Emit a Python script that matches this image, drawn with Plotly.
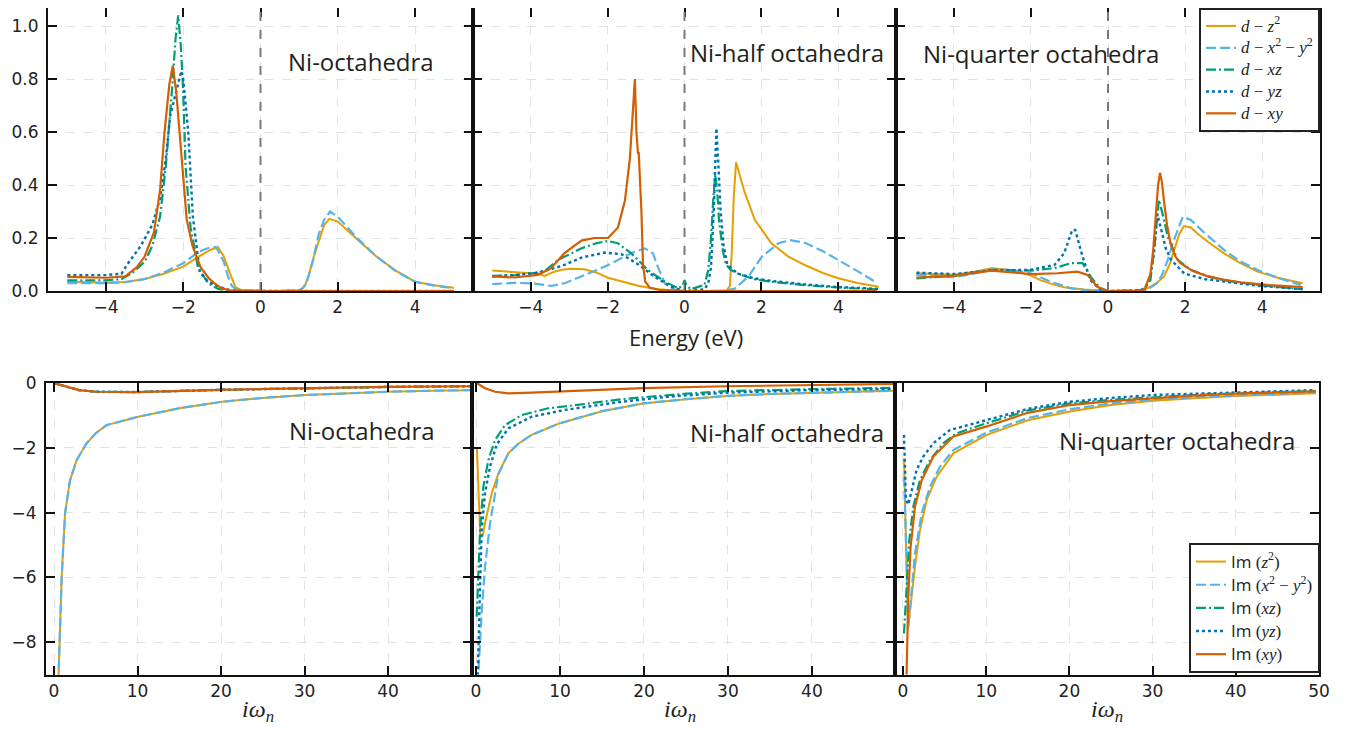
import plotly.graph_objects as go

# ---------------- DATA ----------------
# Top row: spectral functions vs energy (eV)
# Ni-octahedra
E_oct_z2 = [-5.0, -4.5, -4.0, -3.5, -3.0, -2.5, -2.0, -1.6, -1.3, -1.1, -0.95, -0.8, -0.65, -0.5, 0.0, 0.5, 1.05, 1.15, 1.25, 1.38, 1.55, 1.65, 1.78, 2.0, 2.5, 3.0, 3.5, 4.0, 4.5, 5.0]
oct_z2 = [0.035, 0.033, 0.031, 0.034, 0.045, 0.065, 0.092, 0.13, 0.155, 0.165, 0.13, 0.07, 0.015, 0.003, 0.0, 0.0, 0.003, 0.02, 0.06, 0.13, 0.21, 0.25, 0.272, 0.262, 0.195, 0.13, 0.077, 0.035, 0.022, 0.012]
E_oct_x2 = [-5.0, -4.5, -4.0, -3.5, -3.0, -2.5, -2.0, -1.6, -1.35, -1.15, -0.95, -0.85, -0.75, -0.6, 0.0, 0.5, 1.0, 1.1, 1.2, 1.35, 1.5, 1.65, 1.8, 2.0, 2.5, 3.0, 3.5, 4.0, 4.5, 5.0]
oct_x2 = [0.03, 0.03, 0.03, 0.033, 0.045, 0.07, 0.105, 0.148, 0.162, 0.166, 0.11, 0.06, 0.02, 0.003, 0.0, 0.0, 0.003, 0.012, 0.035, 0.11, 0.21, 0.27, 0.30, 0.28, 0.20, 0.13, 0.075, 0.035, 0.02, 0.01]
E_oct_xz = [-5.0, -4.0, -3.6, -3.3, -3.0, -2.8, -2.6, -2.45, -2.28, -2.2, -2.13, -2.06, -2.0, -1.94, -1.81, -1.62, -1.36, -1.1, -0.8, -0.5, 0.0, 5.0]
oct_xz = [0.04, 0.04, 0.045, 0.07, 0.11, 0.17, 0.28, 0.47, 0.78, 0.95, 1.04, 0.92, 0.75, 0.47, 0.24, 0.09, 0.03, 0.008, 0.001, 0.0, 0.0, 0.0]
E_oct_yz = [-5.0, -4.0, -3.6, -3.45, -3.1, -2.8, -2.6, -2.45, -2.34, -2.16, -2.05, -2.0, -1.95, -1.87, -1.75, -1.57, -1.35, -1.14, -0.8, -0.5, 0.0, 5.0]
oct_yz = [0.06, 0.06, 0.065, 0.1, 0.17, 0.25, 0.35, 0.5, 0.66, 0.77, 0.83, 0.8, 0.72, 0.6, 0.28, 0.07, 0.035, 0.02, 0.003, 0.0, 0.0, 0.0]
E_oct_xy = [-5.0, -4.0, -3.5, -3.2, -3.0, -2.76, -2.6, -2.49, -2.36, -2.27, -2.18, -2.06, -1.91, -1.76, -1.55, -1.35, -1.2, -1.0, -0.7, 0.0, 5.0]
oct_xy = [0.053, 0.05, 0.055, 0.09, 0.13, 0.22, 0.38, 0.59, 0.78, 0.85, 0.75, 0.53, 0.27, 0.17, 0.09, 0.05, 0.03, 0.01, 0.0, 0.0, 0.0]

# Ni-half octahedra
E_half_z2 = [-5.0, -4.4, -3.8, -3.64, -3.4, -3.2, -2.94, -2.6, -2.3, -1.99, -1.6, -1.21, -0.69, -0.3, 0.0, 0.5, 1.1, 1.18, 1.23, 1.28, 1.34, 1.45, 1.57, 1.83, 2.26, 2.7, 3.13, 3.6, 4.0, 4.5, 5.05]
half_z2 = [0.077, 0.072, 0.065, 0.057, 0.072, 0.08, 0.084, 0.082, 0.07, 0.05, 0.035, 0.02, 0.007, 0.002, 0.0, 0.0, 0.003, 0.02, 0.15, 0.35, 0.486, 0.43, 0.37, 0.268, 0.18, 0.13, 0.098, 0.068, 0.048, 0.03, 0.016]
E_half_x2 = [-5.0, -4.42, -3.9, -3.47, -3.1, -2.68, -2.3, -1.9, -1.5, -1.29, -1.03, -0.82, -0.69, -0.51, -0.26, 0.0, 1.0, 1.31, 1.66, 2.01, 2.44, 2.75, 3.13, 3.6, 4.0, 4.5, 5.0]
half_x2 = [0.026, 0.031, 0.028, 0.019, 0.03, 0.054, 0.078, 0.104, 0.135, 0.148, 0.161, 0.142, 0.09, 0.028, 0.005, 0.0, 0.0, 0.009, 0.054, 0.129, 0.18, 0.192, 0.182, 0.15, 0.117, 0.075, 0.031]
E_half_xz = [-5.0, -4.4, -3.81, -3.6, -3.29, -2.68, -2.3, -1.99, -1.73, -1.38, -0.95, -0.51, -0.16, -0.05, 0.0, 0.05, 0.17, 0.52, 0.62, 0.69, 0.75, 0.8, 0.85, 0.9, 1.0, 1.08, 1.2, 1.38, 1.8, 2.26, 3.13, 4.0, 5.05]
half_xz = [0.057, 0.06, 0.069, 0.08, 0.117, 0.161, 0.18, 0.189, 0.18, 0.142, 0.079, 0.035, 0.01, 0.02, 0.041, 0.02, 0.007, 0.023, 0.08, 0.2, 0.35, 0.44, 0.38, 0.26, 0.15, 0.1, 0.08, 0.066, 0.045, 0.035, 0.022, 0.013, 0.006]
E_half_yz = [-5.0, -4.4, -3.81, -3.2, -2.68, -2.08, -1.64, -1.21, -0.78, -0.35, 0.0, 0.52, 0.62, 0.69, 0.76, 0.83, 0.88, 0.94, 1.02, 1.11, 1.38, 1.8, 2.26, 3.13, 4.0, 5.05]
half_yz = [0.055, 0.06, 0.069, 0.094, 0.126, 0.145, 0.139, 0.101, 0.054, 0.016, 0.0, 0.006, 0.03, 0.09, 0.3, 0.614, 0.48, 0.3, 0.17, 0.1, 0.066, 0.048, 0.038, 0.025, 0.015, 0.008]
E_half_xy = [-5.0, -4.42, -3.81, -3.47, -3.12, -2.68, -2.34, -1.99, -1.73, -1.55, -1.42, -1.35, -1.29, -1.25, -1.21, -1.19, -1.15, -1.12, -1.08, -1.02, -0.9, -0.6, 0.0, 5.0]
half_xy = [0.055, 0.051, 0.061, 0.086, 0.143, 0.19, 0.2, 0.2, 0.24, 0.34, 0.5, 0.69, 0.80, 0.6, 0.52, 0.52, 0.42, 0.3, 0.1, 0.035, 0.012, 0.003, 0.0, 0.0]

# Ni-quarter octahedra
E_q_z2 = [-4.97, -4.5, -4.0, -3.5, -3.03, -2.7, -2.34, -2.0, -1.74, -1.4, -1.14, -0.63, 0.0, 0.9, 1.1, 1.3, 1.45, 1.6, 1.71, 1.85, 1.97, 2.15, 2.32, 2.6, 3.01, 3.4, 3.88, 4.4, 5.05]
q_z2 = [0.067, 0.063, 0.061, 0.072, 0.086, 0.082, 0.073, 0.058, 0.04, 0.024, 0.014, 0.006, 0.0, 0.002, 0.016, 0.035, 0.054, 0.1, 0.155, 0.215, 0.245, 0.24, 0.217, 0.185, 0.142, 0.108, 0.073, 0.05, 0.029]
E_q_x2 = [-4.97, -4.5, -4.0, -3.5, -3.03, -2.5, -2.0, -1.48, -0.96, -0.5, 0.0, 1.0, 1.27, 1.4, 1.55, 1.68, 1.81, 1.94, 2.15, 2.5, 3.01, 3.4, 3.88, 4.4, 5.0]
q_x2 = [0.061, 0.056, 0.052, 0.065, 0.082, 0.08, 0.067, 0.035, 0.01, 0.002, 0.0, 0.003, 0.029, 0.06, 0.117, 0.18, 0.23, 0.28, 0.268, 0.22, 0.155, 0.115, 0.079, 0.05, 0.023]
E_q_xz = [-4.97, -4.0, -3.03, -2.0, -1.39, -0.96, -0.66, -0.45, -0.2, 0.0, 0.9, 1.1, 1.2, 1.27, 1.32, 1.4, 1.55, 1.81, 2.15, 2.6, 3.01, 3.88, 5.05]
q_xz = [0.048, 0.057, 0.08, 0.077, 0.086, 0.105, 0.105, 0.054, 0.01, 0.0, 0.003, 0.041, 0.16, 0.28, 0.344, 0.3, 0.205, 0.117, 0.08, 0.055, 0.04, 0.023, 0.007]
E_q_yz = [-4.97, -4.0, -3.03, -2.0, -1.39, -1.14, -1.0, -0.93, -0.85, -0.75, -0.66, -0.45, -0.2, 0.0, 0.85, 1.0, 1.1, 1.19, 1.28, 1.4, 1.5, 1.64, 1.98, 2.5, 3.01, 3.88, 5.05]
q_yz = [0.069, 0.064, 0.077, 0.08, 0.098, 0.142, 0.2, 0.23, 0.23, 0.18, 0.13, 0.04, 0.005, 0.0, 0.002, 0.02, 0.06, 0.14, 0.29, 0.22, 0.16, 0.117, 0.066, 0.045, 0.035, 0.02, 0.007]
E_q_xy = [-4.97, -4.0, -3.03, -2.0, -1.31, -0.79, -0.53, -0.28, 0.0, 0.8, 0.95, 1.1, 1.17, 1.24, 1.3, 1.35, 1.4, 1.45, 1.53, 1.62, 1.75, 1.88, 2.2, 2.57, 3.0, 3.44, 4.2, 5.05]
q_xy = [0.051, 0.057, 0.077, 0.064, 0.067, 0.073, 0.061, 0.016, 0.0, 0.0, 0.006, 0.064, 0.15, 0.28, 0.4, 0.446, 0.41, 0.343, 0.25, 0.18, 0.13, 0.105, 0.075, 0.056, 0.043, 0.033, 0.022, 0.015]

# Bottom row: Im Sigma(i w_n)
w_oct_eg = [0.3, 0.64, 0.92, 1.32, 1.92, 2.71, 3.9, 5.0, 6.3, 10.1, 15.0, 20.1, 25.0, 30.1, 35.0, 40.0, 45.0, 49.8]
oct_eg = [-11.0, -8.0, -5.98, -4.02, -3.0, -2.38, -1.86, -1.55, -1.30, -1.04, -0.78, -0.58, -0.46, -0.37, -0.31, -0.27, -0.24, -0.22]
w_oct_t2g = [0.1, 1.5, 3.0, 5.0, 10.0, 20.0, 30.0, 40.0, 49.8]
oct_t2g = [-0.01, -0.12, -0.22, -0.27, -0.28, -0.21, -0.16, -0.12, -0.1]

w_half_z2 = [0.1, 0.5, 0.8, 1.15, 1.87, 2.66, 3.85, 5.0, 6.63, 10.0, 15.0, 19.9, 25.0, 29.8, 35.0, 39.7, 45.0, 49.9]
hw_z2 = [-2.0, -4.7, -4.7, -4.23, -3.4, -2.79, -2.17, -1.88, -1.6, -1.24, -0.87, -0.63, -0.5, -0.4, -0.34, -0.3, -0.27, -0.24]
w_half_x2 = [0.1, 0.28, 0.67, 1.07, 1.67, 2.26, 2.66, 3.85, 5.0, 6.63, 10.0, 15.0, 19.9, 25.0, 29.8, 35.0, 39.7, 45.0, 49.9]
hw_x2 = [-11.0, -8.96, -7.1, -5.67, -4.33, -3.4, -2.82, -2.17, -1.88, -1.6, -1.24, -0.87, -0.63, -0.5, -0.4, -0.34, -0.3, -0.27, -0.24]
w_half_xz = [0.08, 0.48, 0.87, 1.47, 2.26, 3.45, 5.44, 8.6, 12.6, 17.3, 19.9, 25.0, 29.8, 35.0, 39.7, 45.0, 49.9]
hw_xz = [-7.21, -4.54, -3.2, -2.38, -1.76, -1.3, -0.99, -0.78, -0.66, -0.5, -0.44, -0.33, -0.25, -0.21, -0.19, -0.17, -0.15]
w_half_yz = [0.05, 0.2, 0.48, 0.67, 1.07, 1.67, 2.46, 3.85, 6.63, 10.6, 17.3, 23.0, 29.8, 35.0, 39.7, 45.0, 49.9]
hw_yz = [-10.5, -8.8, -6.3, -4.54, -3.4, -2.58, -1.9, -1.4, -1.04, -0.83, -0.58, -0.42, -0.3, -0.26, -0.22, -0.2, -0.18]
w_half_xy = [0.08, 1.07, 2.26, 3.85, 6.6, 10.0, 19.9, 29.8, 39.7, 49.9]
hw_xy = [0.0, -0.16, -0.27, -0.32, -0.3, -0.27, -0.16, -0.1, -0.06, -0.03]

w_q_z2 = [0.12, 0.36, 0.6, 1.44, 2.04, 2.85, 4.05, 6.05, 10.06, 15.0, 20.07, 25.0, 30.1, 35.0, 40.1, 45.0, 49.6]
qw_z2 = [-2.33, -5.05, -7.6, -5.67, -4.54, -3.61, -2.89, -2.17, -1.6, -1.15, -0.88, -0.68, -0.55, -0.47, -0.4, -0.36, -0.32]
w_q_x2 = [0.15, 0.64, 1.44, 2.25, 3.25, 4.45, 6.05, 10.06, 15.0, 20.07, 25.0, 30.1, 35.0, 40.1, 45.0, 49.6]
qw_x2 = [-2.9, -7.55, -5.26, -4.02, -3.2, -2.58, -2.07, -1.53, -1.08, -0.81, -0.63, -0.51, -0.44, -0.38, -0.33, -0.3]
w_q_xz = [0.12, 0.44, 0.76, 1.24, 2.04, 3.25, 4.84, 6.45, 10.06, 15.0, 20.07, 25.0, 30.1, 35.0, 40.1, 45.0, 49.6]
qw_xz = [-7.73, -6.08, -4.85, -3.82, -3.0, -2.38, -1.86, -1.55, -1.24, -0.85, -0.63, -0.52, -0.44, -0.37, -0.32, -0.28, -0.25]
w_q_yz = [0.12, 0.36, 0.64, 1.04, 1.64, 2.44, 3.64, 5.65, 10.06, 15.0, 20.07, 25.0, 30.1, 35.0, 40.1, 45.0, 49.6]
qw_yz = [-1.6, -3.6, -3.75, -3.3, -2.68, -2.27, -1.86, -1.45, -1.14, -0.8, -0.58, -0.46, -0.37, -0.33, -0.3, -0.26, -0.22]
w_q_xy = [0.3, 0.64, 0.92, 1.44, 2.25, 3.64, 6.05, 10.06, 15.0, 20.07, 25.0, 30.1, 35.0, 40.1, 45.0, 49.6]
qw_xy = [-10.5, -6.6, -5.05, -3.82, -3.0, -2.27, -1.65, -1.34, -0.92, -0.68, -0.56, -0.47, -0.39, -0.33, -0.29, -0.26]

panel_titles = ["Ni-octahedra", "Ni-half octahedra", "Ni-quarter octahedra"]
top_labels = ["<i>d</i> − <i>z</i><sup>2</sup>", "<i>d</i> − <i>x</i><sup>2</sup> − <i>y</i><sup>2</sup>",
              "<i>d</i> − <i>xz</i>", "<i>d</i> − <i>yz</i>", "<i>d</i> − <i>xy</i>"]
bot_labels = ["(<i>z</i><sup>2</sup>)", "(<i>x</i><sup>2</sup> − <i>y</i><sup>2</sup>)",
              "(<i>xz</i>)", "(<i>yz</i>)", "(<i>xy</i>)"]
top_xticks = [-4, -2, 0, 2, 4]
top_yticks = [0.0, 0.2, 0.4, 0.6, 0.8, 1.0]
bot_yticks = [0, -2, -4, -6, -8]

# ---------------- STYLE / LAYOUT ----------------
colors = ["#E69F00", "#56B4E9", "#009E73", "#0072B2", "#D55E00"]
dashes = ["solid", "10px,4px", "10px,3px,2px,3px", "dot", "solid"]
widths = [2, 2.2, 2.2, 2.4, 2.2]

top_names = ["<span style='font-size:17px'>" + s + "</span>" for s in top_labels]
bot_names = ["<span style='font-size:17px'><span style='font-family:Open Sans'>Im</span> " + s + "</span>"
             for s in bot_labels]

# page body keeps an 8px margin: size the figure so the whole page fits the window
OFF = 8
W, H = 1360 - 2 * OFF, 735 - 2 * OFF
def fx(p): return (p - OFF) / W
def fy(p): return max(0.0, min(1.0, 1 - (p - OFF) / H))
def xn(i): return "x" if i == 1 else f"x{i}"
def yn(i): return "y" if i == 1 else f"y{i}"
def xa(i): return "xaxis" if i == 1 else f"xaxis{i}"
def ya(i): return "yaxis" if i == 1 else f"yaxis{i}"

top_dom_x = [(48, 473), (473, 896), (896, 1320)]
bot_dom_x = [(46, 472), (472, 895), (895, 1319)]
top_dom_y = [fy(291), fy(OFF)]
top_ymax = (291 - OFF) / 265.0
bot_dom_y = [fy(674.6), fy(383)]
bot_ranges = [[-0.96, 50.06], [-0.48, 49.9], [-0.96, 50.0]]

fig = go.Figure()

top_sets = [
    [(E_oct_z2, oct_z2), (E_oct_x2, oct_x2), (E_oct_xz, oct_xz), (E_oct_yz, oct_yz), (E_oct_xy, oct_xy)],
    [(E_half_z2, half_z2), (E_half_x2, half_x2), (E_half_xz, half_xz), (E_half_yz, half_yz), (E_half_xy, half_xy)],
    [(E_q_z2, q_z2), (E_q_x2, q_x2), (E_q_xz, q_xz), (E_q_yz, q_yz), (E_q_xy, q_xy)],
]
bot_sets = [
    [(w_oct_eg, oct_eg), (w_oct_eg, oct_eg), (w_oct_t2g, oct_t2g), (w_oct_t2g, oct_t2g), (w_oct_t2g, oct_t2g)],
    [(w_half_z2, hw_z2), (w_half_x2, hw_x2), (w_half_xz, hw_xz), (w_half_yz, hw_yz), (w_half_xy, hw_xy)],
    [(w_q_z2, qw_z2), (w_q_x2, qw_x2), (w_q_xz, qw_xz), (w_q_yz, qw_yz), (w_q_xy, qw_xy)],
]

for p in range(3):
    ax = p + 1
    for k, (xs, ys) in enumerate(top_sets[p]):
        fig.add_trace(go.Scatter(x=xs, y=ys, mode="lines", name=top_names[k],
                                 line=dict(color=colors[k], dash=dashes[k], width=widths[k]),
                                 xaxis=xn(ax), yaxis=yn(ax),
                                 showlegend=(p == 2), legend="legend"))
for p in range(3):
    ax = p + 4
    for k, (xs, ys) in enumerate(bot_sets[p]):
        fig.add_trace(go.Scatter(x=xs, y=ys, mode="lines", name=bot_names[k],
                                 line=dict(color=colors[k], dash=dashes[k], width=widths[k]),
                                 xaxis=xn(ax), yaxis=yn(ax),
                                 showlegend=(p == 2), legend="legend2"))

axis_common = dict(showline=True, linewidth=2, linecolor="#111", mirror="ticks",
                   ticks="inside", ticklen=9, tickwidth=2, tickcolor="#111",
                   showgrid=True, gridcolor="#e2e2e2", griddash="dash", gridwidth=1,
                   zeroline=False, automargin=False,
                   tickfont=dict(family="DejaVu Sans", size=17, color="#222"))

layout = {}
for p in range(3):
    ax = p + 1
    layout[xa(ax)] = dict(axis_common, domain=[fx(top_dom_x[p][0]), fx(top_dom_x[p][1])],
                          range=[-5.5, 5.5], tickvals=top_xticks, anchor=yn(ax))
    layout[ya(ax)] = dict(axis_common, domain=top_dom_y, range=[0, top_ymax],
                          tickvals=top_yticks, tickformat=".1f", ticklabelstandoff=4,
                          showticklabels=(p == 0), anchor=xn(ax))
for p in range(3):
    ax = p + 4
    xt = [0, 10, 20, 30, 40, 50] if p == 2 else [0, 10, 20, 30, 40]
    layout[xa(ax)] = dict(axis_common, domain=[fx(bot_dom_x[p][0]), fx(bot_dom_x[p][1])],
                          range=bot_ranges[p], tickvals=xt, anchor=yn(ax))
    layout[ya(ax)] = dict(axis_common, domain=bot_dom_y, range=[-9, 0], ticklabelstandoff=4,
                          tickvals=bot_yticks, showticklabels=(p == 0), anchor=xn(ax))

fig.update_layout(**layout)

shapes = []
for p in range(3):
    ax = p + 1
    shapes.append(dict(type="line", xref=xn(ax), yref=yn(ax) + " domain", x0=0, x1=0, y0=0, y1=1,
                       line=dict(color="#7a7a7a", width=2, dash="dash")))

ann_font = dict(family="Open Sans", size=24, color="#231f20")
annotations = []
top_title_pos = [(361, 62), (787, 52), (1041, 53)]
bot_title_pos = [(362, 430), (787, 432), (1177, 440)]
for p in range(3):
    for (cx, cy) in [top_title_pos[p], bot_title_pos[p]]:
        annotations.append(dict(text=panel_titles[p], x=fx(cx), y=fy(cy), xref="paper", yref="paper",
                                xanchor="center", yanchor="middle", showarrow=False, font=ann_font))
annotations.append(dict(text="Energy (eV)", x=fx(686), y=fy(337), xref="paper", yref="paper",
                        xanchor="center", yanchor="middle", showarrow=False,
                        font=dict(family="Open Sans", size=22, color="#231f20")))
for cx in [258, 680, 1107]:
    annotations.append(dict(text="<i>iω</i><sub><i>n</i></sub>", x=fx(cx), y=0.0, xref="paper", yref="paper",
                            xanchor="center", yanchor="bottom", showarrow=False, borderpad=0,
                            font=dict(family="Liberation Serif", size=24, color="#231f20")))

fig.update_layout(
    width=W, height=H, margin=dict(l=0, r=0, t=0, b=0, pad=0), autosize=False,
    paper_bgcolor="white", plot_bgcolor="white",
    shapes=shapes, annotations=annotations,
    legend=dict(x=fx(1320), y=1.0, xanchor="right", yanchor="top", bgcolor="white",
                bordercolor="#222", borderwidth=2, itemwidth=30, tracegroupgap=0,
                font=dict(family="Liberation Serif", size=14.5, color="#222")),
    legend2=dict(x=fx(1320), y=fy(673), xanchor="right", yanchor="bottom", bgcolor="white",
                 bordercolor="#222", borderwidth=2, itemwidth=30, tracegroupgap=0,
                 font=dict(family="Liberation Serif", size=15.5, color="#222")),
)

fig.write_html("out.html")
